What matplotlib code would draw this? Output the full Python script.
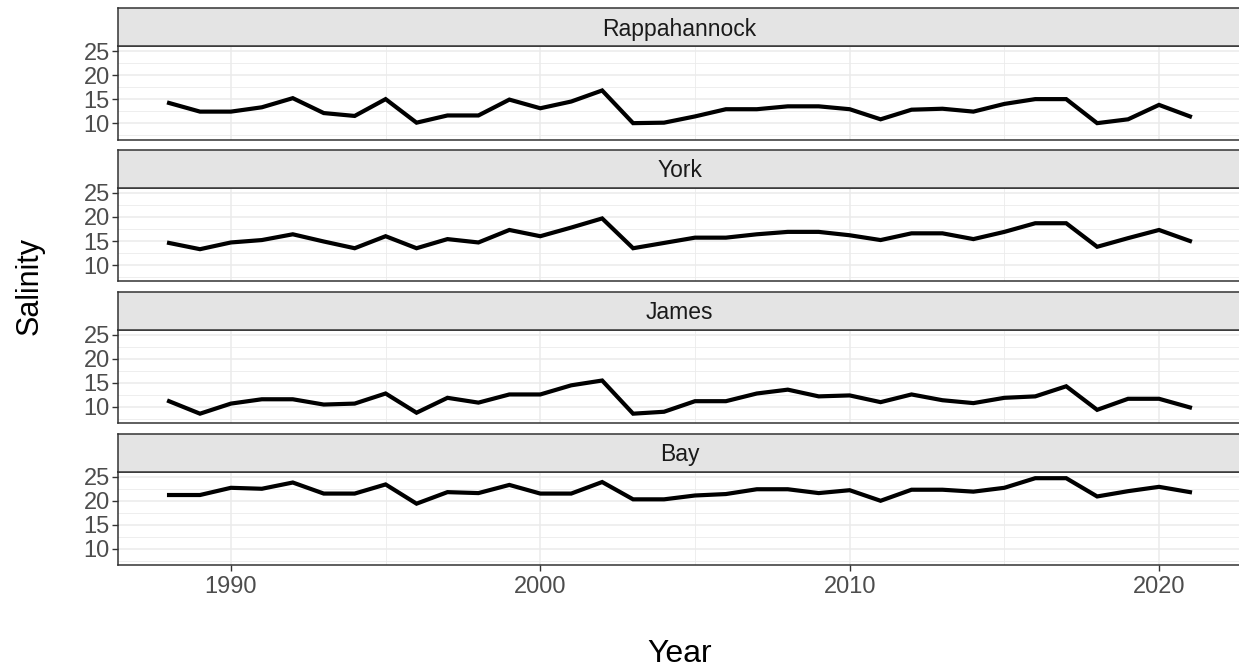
import matplotlib
matplotlib.use("Agg")
import matplotlib.pyplot as plt
from matplotlib.ticker import MultipleLocator

plt.rcParams["font.family"] = ["Liberation Sans", "DejaVu Sans"]

years = list(range(1988, 2022))
rivers = ["Rappahannock", "York", "James", "Bay"]

rappahannock = [14.2, 12.4, 12.4, 13.3, 15.2, 12.1, 11.5, 15.0, 10.1, 11.6, 11.6, 14.9,
                13.1, 14.5, 16.8, 10.0, 10.1, 11.4, 12.9, 12.9, 13.5, 13.5, 12.9, 10.8,
                12.8, 13.0, 12.4, 14.0, 15.0, 15.0, 10.0, 10.8, 13.8, 11.4]
york = [14.6, 13.3, 14.7, 15.2, 16.4, 14.9, 13.5, 16.0, 13.5, 15.4, 14.7, 17.3,
        16.0, 17.8, 19.7, 13.5, 14.6, 15.7, 15.7, 16.4, 16.9, 16.9, 16.2, 15.2,
        16.6, 16.6, 15.4, 16.9, 18.7, 18.7, 13.8, 15.6, 17.3, 15.0]
james = [11.2, 8.6, 10.7, 11.6, 11.6, 10.5, 10.7, 12.8, 8.8, 11.9, 10.9, 12.6,
         12.6, 14.5, 15.5, 8.6, 9.0, 11.2, 11.2, 12.8, 13.6, 12.2, 12.4, 11.0,
         12.6, 11.4, 10.8, 11.9, 12.2, 14.3, 9.4, 11.7, 11.7, 9.9]
bay = [21.2, 21.2, 22.7, 22.5, 23.8, 21.5, 21.5, 23.4, 19.4, 21.8, 21.6, 23.3,
       21.5, 21.5, 23.9, 20.3, 20.3, 21.1, 21.4, 22.4, 22.4, 21.6, 22.2, 20.0,
       22.3, 22.3, 21.9, 22.7, 24.7, 24.7, 20.9, 22.0, 22.9, 21.8]
series = [rappahannock, york, james, bay]

y_ticks = [10, 15, 20, 25]
x_ticks = [1990, 2000, 2010, 2020]

W, H = 1239, 670
fig = plt.figure(figsize=(W / 100, H / 100), dpi=100)

left, right = 118, 1241
top0, strip_h, panel_h, period = 8.3, 37.7, 93.5, 141.9

for i, (name, vals) in enumerate(zip(rivers, series)):
    s_top = top0 + i * period
    p_top = s_top + strip_h
    ax = fig.add_axes([left / W, 1 - (p_top + panel_h) / H, (right - left) / W, panel_h / H])
    ax.plot(years, vals, color="black", lw=3.0, solid_joinstyle="miter", zorder=3)
    ax.set_xlim(1986.35, 2022.65)
    ax.set_ylim(6.6, 26.05)
    ax.set_yticks(y_ticks)
    ax.set_xticks(x_ticks)
    ax.xaxis.set_minor_locator(MultipleLocator(5))
    ax.yaxis.set_minor_locator(MultipleLocator(2.5))
    ax.grid(which="major", color="#EBEBEB", lw=1.1)
    ax.grid(which="minor", color="#EBEBEB", lw=0.6)
    ax.set_axisbelow(True)
    ax.tick_params(which="minor", length=0)
    ax.tick_params(which="major", length=4, width=1, color="#333333",
                   labelcolor="#4D4D4D", labelsize=17, pad=2)
    for sp in ax.spines.values():
        sp.set_color("#333333")
        sp.set_linewidth(1.1)
    if i < 3:
        ax.tick_params(axis="x", labelbottom=False, length=0)
    else:
        ax.tick_params(axis="x", labelsize=17, pad=4)

    sax = fig.add_axes([left / W, 1 - (s_top + strip_h) / H, (right - left) / W, strip_h / H])
    sax.set_facecolor("#E4E4E4")
    sax.set_xticks([])
    sax.set_yticks([])
    for sp in sax.spines.values():
        sp.set_color("#333333")
        sp.set_linewidth(1.1)
    sax.text(0.5, 0.45, name, ha="center", va="center", fontsize=16.5,
             color="#1A1A1A", transform=sax.transAxes)

fig.text(30 / W, 1 - 286 / H, "Salinity", rotation=90, ha="center", va="center",
         fontsize=22, color="black")
fig.text(680 / W, 1 - 654 / H, "Year", ha="center", va="center",
         fontsize=23, color="black")

fig.savefig("out.png", dpi=100)
